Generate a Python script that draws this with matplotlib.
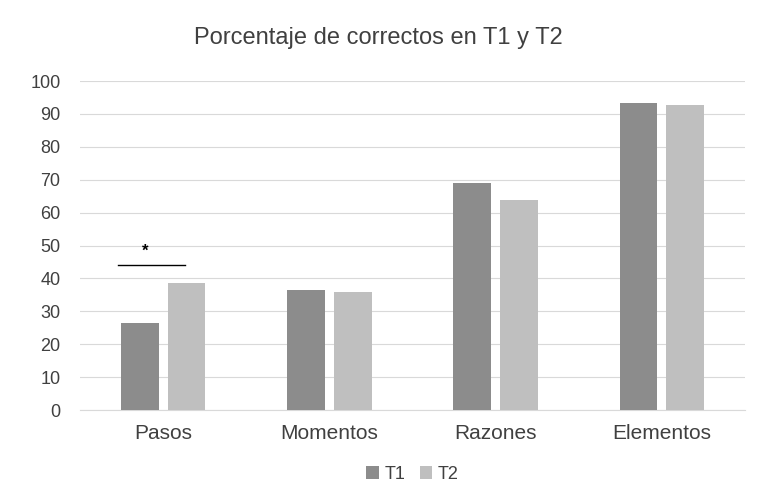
import matplotlib
matplotlib.use("Agg")
import matplotlib.pyplot as plt
import numpy as np

categories = ["Pasos", "Momentos", "Razones", "Elementos"]
t1 = [26.4, 36.5, 69.0, 93.3]
t2 = [38.6, 35.9, 63.8, 92.7]
yticks = list(range(0, 101, 10))

plt.rcParams['font.family'] = ['Liberation Sans', 'DejaVu Sans']
fig = plt.figure(figsize=(7.57, 4.94), dpi=100)
ax = fig.add_axes([80/757, 84/494, 665/757, 329/494])
x = np.arange(len(categories))
w = 0.226
off = (w + 0.055) / 2
ax.bar(x - off, t1, w, color="#8c8c8c", label="T1", zorder=3)
ax.bar(x + off, t2, w, color="#bfbfbf", label="T2", zorder=3)
ax.set_xlim(-0.5, 3.5)
ax.set_ylim(0, 100)
ax.set_yticks(yticks)
ax.set_xticks(x)
ax.set_xticklabels(categories, fontsize=15, color="#404040")
ax.tick_params(axis='y', labelsize=13, colors="#404040", length=0, pad=14)
ax.tick_params(axis='x', length=0, pad=10)
ax.grid(axis='y', color="#d9d9d9", linewidth=0.8, zorder=0)
for s in ["top", "right", "left"]:
    ax.spines[s].set_visible(False)
ax.spines["bottom"].set_color("#d9d9d9")
# significance marker
ax.plot([x[0] - off - w/2 - 0.02, x[0] + off + w/2 - 0.12], [44, 44], color="black", lw=1, zorder=4)
ax.text(x[0] - 0.11, 46, "*", ha="center", va="bottom", fontsize=12, fontweight="bold")
fig.suptitle("Porcentaje de correctos en T1 y T2", y=0.945, fontsize=17, color="#404040")
ax.legend(loc="upper center", bbox_to_anchor=(0.5, -0.12), ncol=2, frameon=False,
          fontsize=13, handlelength=0.7, handleheight=0.7, columnspacing=0.8,
          handletextpad=0.3, labelcolor="#404040")
fig.savefig("out.png", dpi=100)
